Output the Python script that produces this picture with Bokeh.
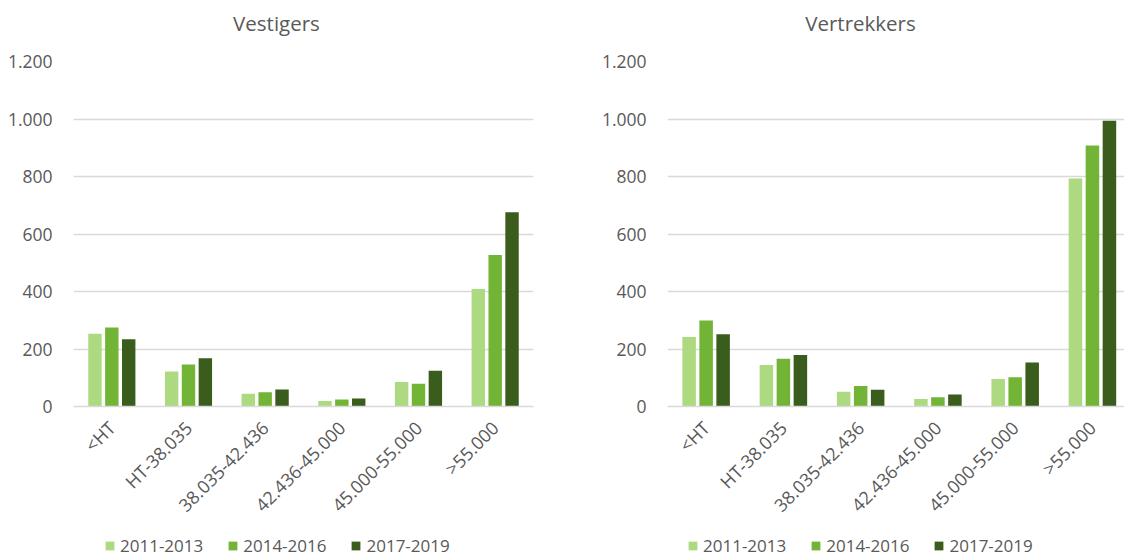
from bokeh.plotting import figure
from bokeh.models import FixedTicker, Range1d, Legend, LegendItem, ColumnDataSource, Label
from bokeh.layouts import row, column
from bokeh.embed import file_html
from bokeh.resources import INLINE
import math

categories = ["<HT", "HT-38.035", "38.035-42.436", "42.436-45.000", "45.000-55.000", ">55.000"]
periods = ["2011-2013", "2014-2016", "2017-2019"]
colors = ["#ADDA80", "#72B536", "#3A5C1C"]

vestigers_2011_2013 = [253, 122, 44, 19, 85, 409]
vestigers_2014_2016 = [275, 146, 50, 24, 79, 527]
vestigers_2017_2019 = [234, 168, 59, 28, 124, 676]

vertrekkers_2011_2013 = [242, 144, 51, 26, 96, 793]
vertrekkers_2014_2016 = [299, 166, 71, 32, 102, 908]
vertrekkers_2017_2019 = [251, 179, 58, 42, 153, 994]

y_ticks = [0, 200, 400, 600, 800, 1000, 1200]
y_tick_labels = ["0", "200", "400", "600", "800", "1.000", "1.200"]

FONT = "Open Sans"
TXT = "#595959"
GRID = "#D9D9D9"
H_TITLE = 40
H_MAIN = 490
H_LEG = 27


def blank_figure(width, height):
    f = figure(width=width, height=height, output_backend="svg", toolbar_location=None,
               x_range=Range1d(0, width), y_range=Range1d(0, height),
               x_axis_location=None, y_axis_location=None, min_border=0,
               outline_line_color=None)
    f.xgrid.grid_line_color = None
    f.ygrid.grid_line_color = None
    return f


def make_title(text, width, cx):
    t = blank_figure(width, H_TITLE)
    t.add_layout(Label(x=cx, y=H_TITLE - 22, text=text, text_align="center", text_baseline="middle",
                       text_font=FONT, text_font_size="20.5px", text_color=TXT))
    return t


def make_chart(series, width, border_left, border_right, x_end):
    p = figure(width=width, height=H_MAIN, output_backend="svg", toolbar_location=None,
               x_range=Range1d(0, x_end), y_range=Range1d(0, 1200),
               min_border_left=border_left, min_border_right=border_right,
               min_border_top=61 - H_TITLE, min_border_bottom=H_TITLE + H_MAIN - 406,
               outline_line_color=None)
    centers = [i + 0.5 for i in range(len(categories))]
    offsets = [-0.22, 0.0, 0.22]
    for vals, off, col in zip(series, offsets, colors):
        src = ColumnDataSource(dict(x=[c + off for c in centers], top=vals))
        p.vbar(x="x", top="top", width=0.175, source=src, fill_color=col, line_color=None)

    p.xaxis.ticker = FixedTicker(ticks=centers)
    p.xaxis.major_label_overrides = {c: lab for c, lab in zip(centers, categories)}
    p.xaxis.major_label_orientation = math.pi / 4
    p.xaxis.major_tick_line_color = None
    p.xaxis.minor_tick_line_color = None
    p.xaxis.axis_line_color = GRID
    p.xaxis.axis_line_width = 1.5
    p.xaxis.major_label_text_font = FONT
    p.xaxis.major_label_text_font_size = "18px"
    p.xaxis.major_label_text_color = TXT
    p.xaxis.major_label_standoff = 12

    p.yaxis.ticker = FixedTicker(ticks=y_ticks)
    p.yaxis.major_label_overrides = {t: lab for t, lab in zip(y_ticks, y_tick_labels)}
    p.yaxis.major_tick_line_color = None
    p.yaxis.minor_tick_line_color = None
    p.yaxis.axis_line_color = None
    p.yaxis.major_label_text_font = FONT
    p.yaxis.major_label_text_font_size = "17.5px"
    p.yaxis.major_label_text_color = TXT
    p.yaxis.major_label_standoff = 15

    p.xgrid.grid_line_color = None
    p.ygrid.ticker = FixedTicker(ticks=y_ticks[1:])
    p.ygrid.grid_line_color = GRID
    p.ygrid.grid_line_width = 1.5
    return p


def make_legend(width, legend_x):
    lf = blank_figure(width, H_LEG)
    rs = []
    for col in colors:
        src = ColumnDataSource(dict(x=[-100], top=[0]))
        rs.append(lf.vbar(x="x", top="top", width=1, source=src, fill_color=col, line_color=None))
    legend = Legend(items=[LegendItem(label=per, renderers=[r]) for per, r in zip(periods, rs)],
                    orientation="horizontal", location=(legend_x, 0),
                    label_text_font=FONT, label_text_font_size="17px", label_text_color=TXT,
                    glyph_width=11, glyph_height=11, label_standoff=5, spacing=24,
                    padding=0, margin=0, border_line_color=None, background_fill_alpha=0)
    lf.add_layout(legend, "center")
    return lf


W_L, W_R = 598, 526
left = make_chart([vestigers_2011_2013, vestigers_2014_2016, vestigers_2017_2019],
                  width=W_L, border_left=73, border_right=65, x_end=6.0)
right = make_chart([vertrekkers_2011_2013, vertrekkers_2014_2016, vertrekkers_2017_2019],
                   width=W_R, border_left=43, border_right=0, x_end=5.915)

layout = column(
    row(make_title("Vestigers", W_L, 276), make_title("Vertrekkers", W_R, 262)),
    row(left, right),
    row(make_legend(W_L, 104), make_legend(W_R, 89)),
)
open("out.html", "w").write(file_html(layout, INLINE))
